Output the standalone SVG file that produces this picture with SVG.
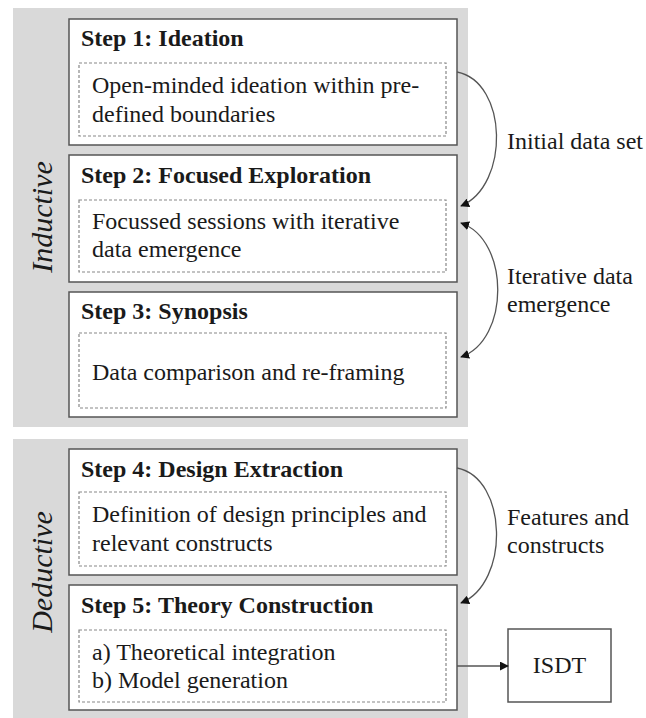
<svg xmlns="http://www.w3.org/2000/svg" width="646" height="718" viewBox="0 0 646 718">
<defs>
<marker id="ah" viewBox="0 0 10 10" refX="9" refY="5" markerWidth="9" markerHeight="9" markerUnits="userSpaceOnUse" orient="auto-start-reverse">
<path d="M0,0 L10,5 L0,10 z" fill="#111"/>
</marker>
<style>
.panel{fill:#d9d9d9}
.box{fill:#fff;stroke:#555;stroke-width:1.5}
.inner{fill:#fff;stroke:#888;stroke-width:1.2;stroke-dasharray:3 2}
.t{font-family:"Liberation Serif","Times New Roman",serif;font-size:24px;fill:#1a1a1a}
.b{font-weight:bold}
.side{font-family:"Liberation Serif","Times New Roman",serif;font-size:30px;font-style:italic;fill:#1a1a1a}
.conn{fill:none;stroke:#555;stroke-width:1.3}
</style>
</defs>
<rect class="panel" x="13" y="8" width="455" height="419"/>
<rect class="panel" x="13" y="439" width="455" height="279"/>
<text class="side" transform="translate(52,217) rotate(-90)" text-anchor="middle">Inductive</text>
<text class="side" transform="translate(52,572) rotate(-90)" text-anchor="middle">Deductive</text>

<g id="step1">
<rect class="box" x="69" y="19" width="388" height="126"/>
<text class="t b" x="81" y="46">Step 1: Ideation</text>
<rect class="inner" x="79" y="63" width="367" height="73"/>
<text class="t" x="92" y="93">Open-minded ideation within pre-</text>
<text class="t" x="92" y="122">defined boundaries</text>
</g>
<g id="step2">
<rect class="box" x="69" y="155" width="388" height="127"/>
<text class="t b" x="81" y="183">Step 2: Focused Exploration</text>
<rect class="inner" x="79" y="200" width="367" height="72"/>
<text class="t" x="92" y="229">Focussed sessions with iterative</text>
<text class="t" x="92" y="257">data emergence</text>
</g>
<g id="step3">
<rect class="box" x="69" y="292" width="388" height="125"/>
<text class="t b" x="81" y="319">Step 3: Synopsis</text>
<rect class="inner" x="79" y="333" width="367" height="75"/>
<text class="t" x="92" y="380">Data comparison and re-framing</text>
</g>
<g id="step4">
<rect class="box" x="69" y="449" width="388" height="126"/>
<text class="t b" x="81" y="477">Step 4: Design Extraction</text>
<rect class="inner" x="79" y="492" width="367" height="74"/>
<text class="t" x="92" y="522">Definition of design principles and</text>
<text class="t" x="92" y="551">relevant constructs</text>
</g>
<g id="step5">
<rect class="box" x="69" y="585" width="388" height="125"/>
<text class="t b" x="81" y="613">Step 5: Theory Construction</text>
<rect class="inner" x="79" y="630" width="367" height="72"/>
<text class="t" x="92" y="660">a) Theoretical integration</text>
<text class="t" x="92" y="688">b) Model generation</text>
</g>
<g id="isdt">
<rect class="box" x="508" y="629" width="103" height="73"/>
<text class="t" x="559.5" y="673" text-anchor="middle">ISDT</text>
</g>

<g id="connectors">
<path class="conn" d="M457,72 C508,82 510,185 461,206" marker-end="url(#ah)"/>
<path class="conn" d="M461,223 C510,240 510,340 461,357" marker-start="url(#ah)" marker-end="url(#ah)"/>
<path class="conn" d="M457,468 C508,478 510,583 461,603" marker-end="url(#ah)"/>
<path class="conn" d="M457,666 L508,666" marker-end="url(#ah)"/>
</g>
<g id="labels">
<text class="t" x="507" y="149">Initial data set</text>
<text class="t" x="507" y="284">Iterative data</text>
<text class="t" x="507" y="312">emergence</text>
<text class="t" x="507" y="525">Features and</text>
<text class="t" x="507" y="553">constructs</text>
</g>
</svg>
